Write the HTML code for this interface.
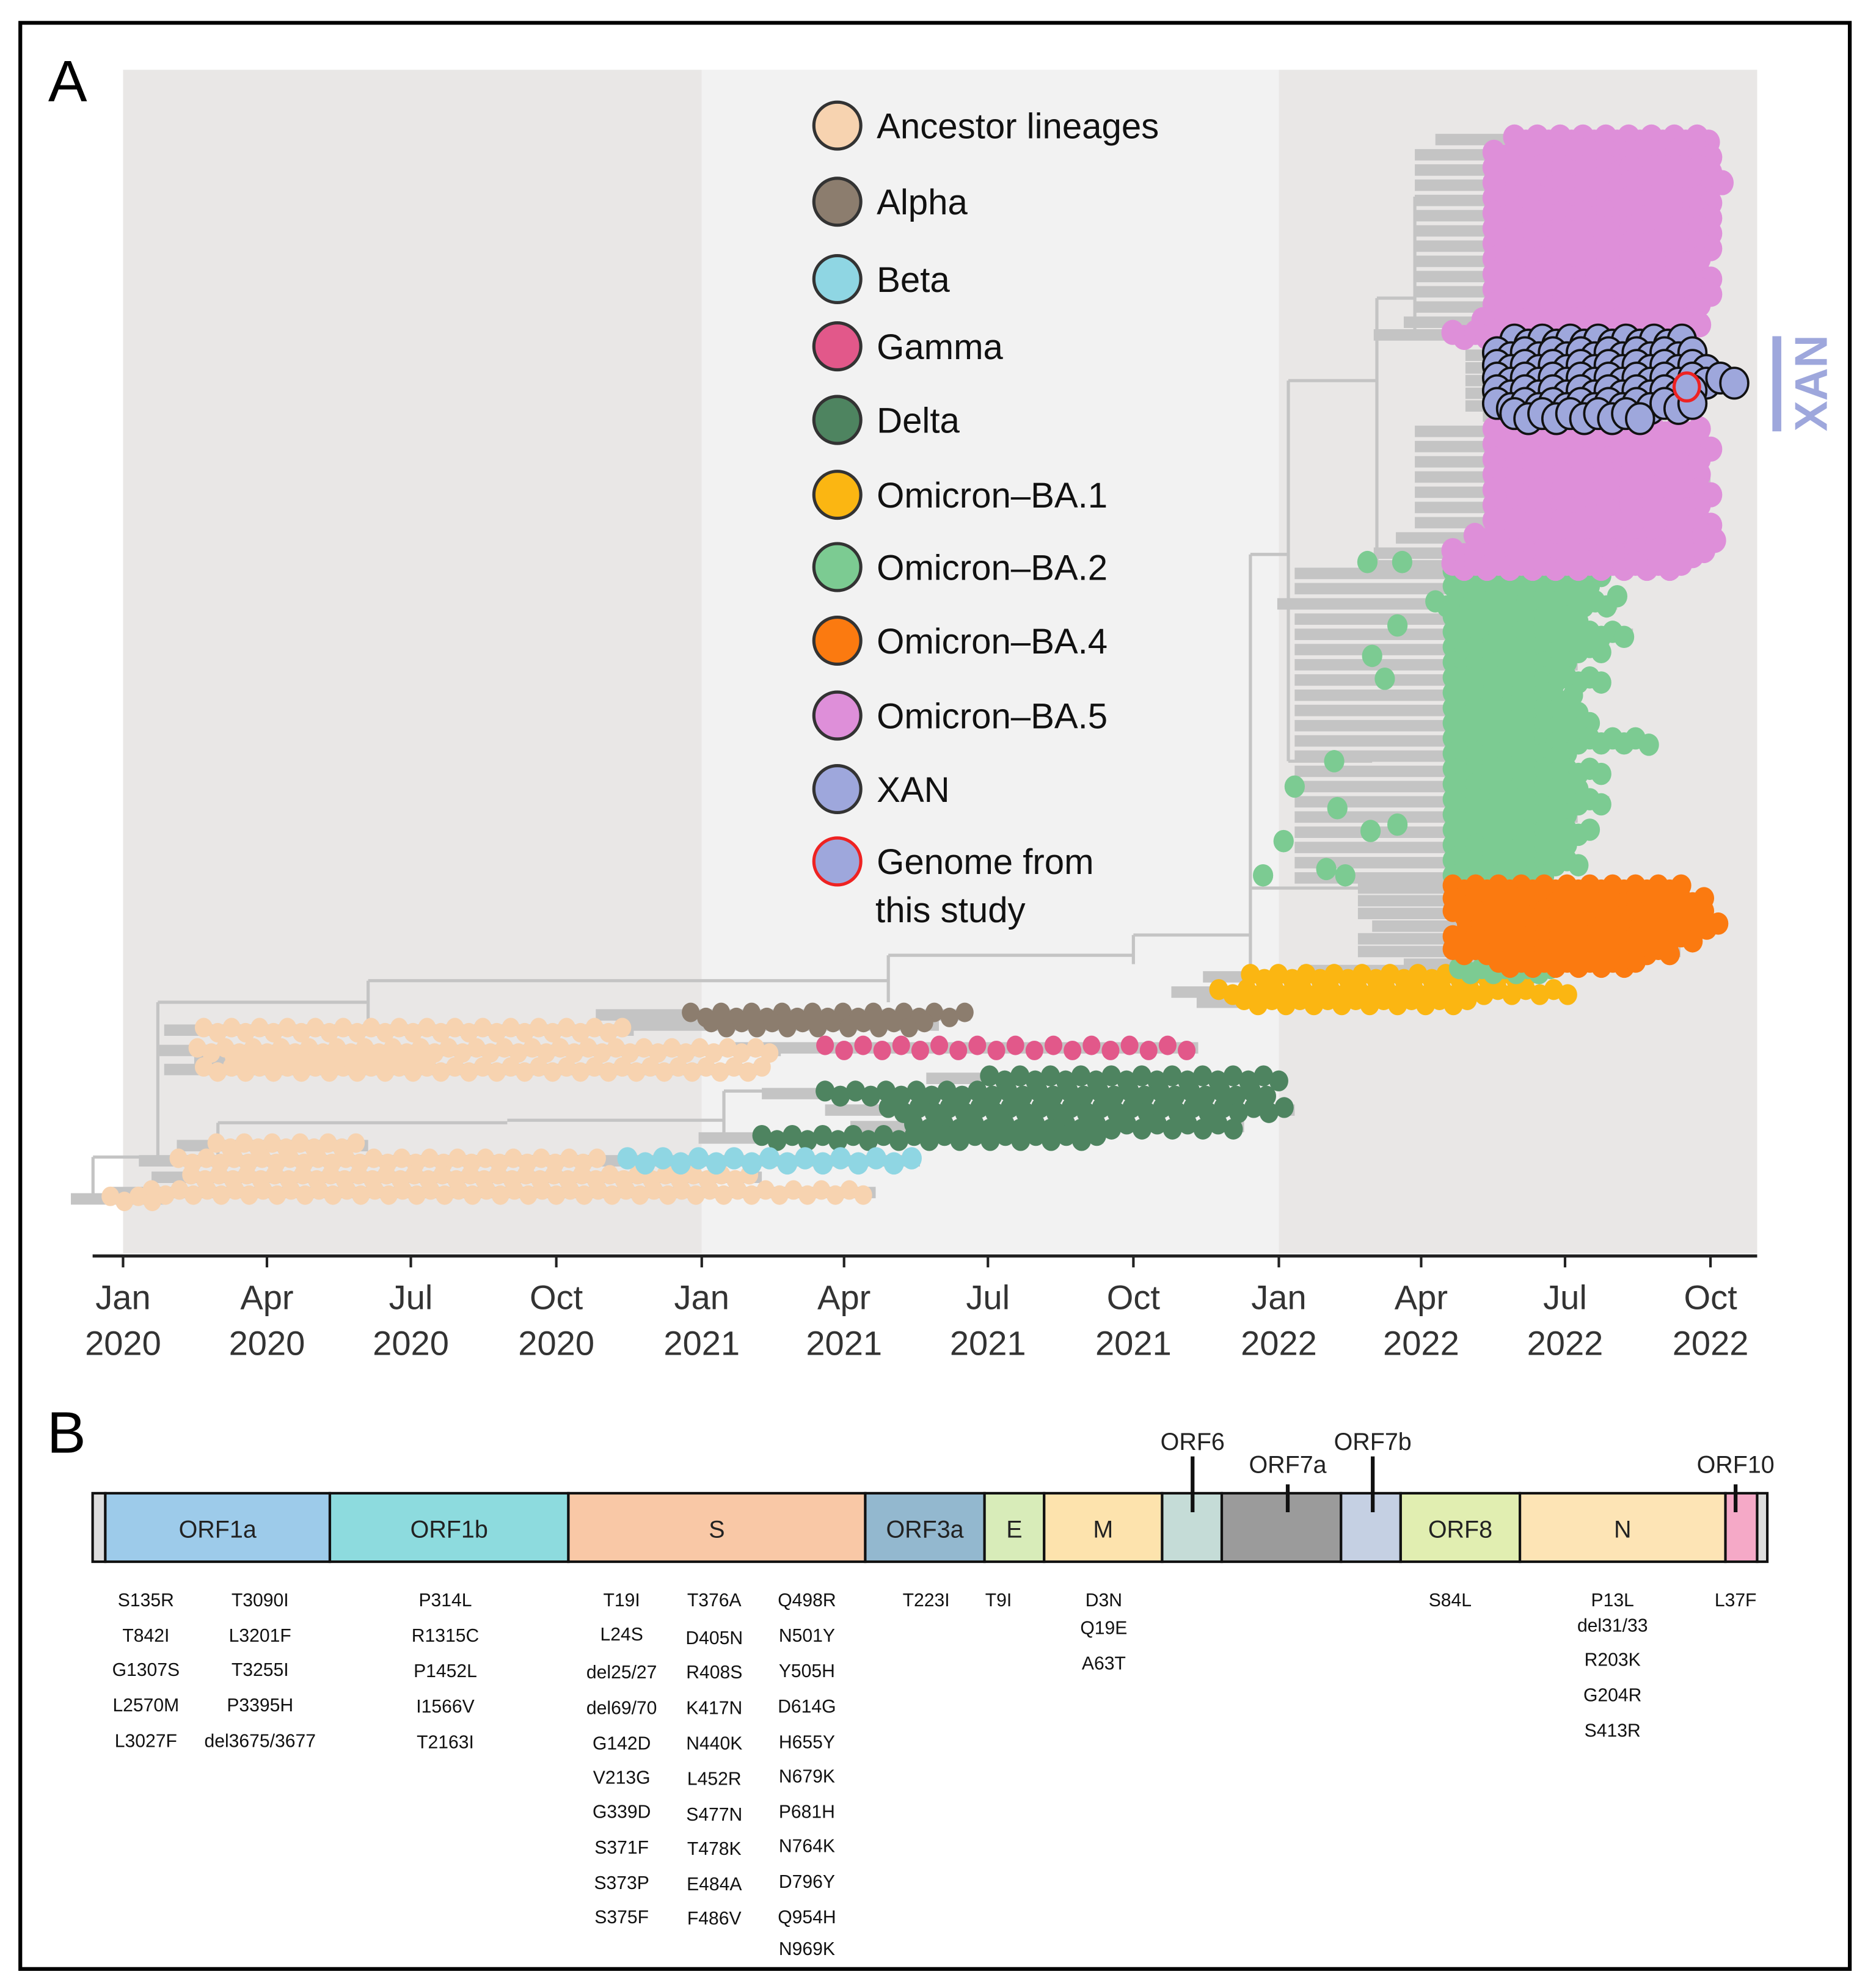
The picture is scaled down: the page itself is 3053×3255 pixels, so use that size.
<!DOCTYPE html>
<html><head><meta charset="utf-8">
<style>
html,body{margin:0;padding:0;background:#fff;}
svg{display:block;font-family:"Liberation Sans",sans-serif;}
</style></head>
<body>
<svg id="fig" width="3053" height="3255" viewBox="0 0 1470 1567" preserveAspectRatio="none" xmlns="http://www.w3.org/2000/svg">
<rect x="16" y="18" width="1442" height="1534" fill="#fff" stroke="#000" stroke-width="3"/>
<text x="38" y="80" font-size="46">A</text>
<g id="bands"></g>
<g id="tree"></g>
<g id="dots"></g>
<g id="axis"></g>
<g id="legend"></g>
<g>
<rect x="1397" y="265" width="7" height="75" fill="#9ea7dc"/>
<text x="1428" y="314" font-size="36" font-weight="bold" fill="#9ea7dc" text-anchor="middle" transform="rotate(-90 1428 302)">XAN</text>
</g>
<text x="37" y="1145" font-size="46">B</text>
<g id="genome"></g>
<g id="muts"></g>
</svg>
<script>
// ---------- data ----------
const tickDays=[0,91,182,274,366,456,547,639,731,821,912,1004];
const tickMonths=["Jan","Apr","Jul","Oct","Jan","Apr","Jul","Oct","Jan","Apr","Jul","Oct"];
const tickYears=["2020","2020","2020","2020","2021","2021","2021","2021","2022","2022","2022","2022"];
const legendNames=["Ancestor lineages","Alpha","Beta","Gamma","Delta","Omicron\u2013BA.1","Omicron\u2013BA.2","Omicron\u2013BA.4","Omicron\u2013BA.5","XAN","Genome from"];
const legendColors=["#f7d3b0","#8c7d6e","#8fd6e3","#e2588a","#4e8460","#fbb612","#7ccb92","#fb7a10","#de8fd9","#9ea7dc","#9ea7dc"];
// rows: [tip-order y, first sample day, last sample day]
const ancestorRows=[[812,51,323],[828,47,416],[843,51,404],[835,70,195],[903,59,155],[915,35,300],[928,43,404],[940,18,476],[945,-8,27]];
const alphaRows=[[800,359,536],[808,372,516]];
const gammaRows=[[826,444,680]];
const deltaRows=[[850,548,733],[862,444,725],[875,484,741],[888,500,709],[897,404,620]];
const betaRows=[[915,319,504]];
const ba1Rows=[[770,713,893],[782,693,917],[790,709,853]];
const ba2Rows=[[452,841,941],[464,841,930],[476,830,945],[488,841,925],[500,841,955],[512,841,940],[524,841,920],[536,841,935],[548,841,910],[560,841,925],[572,841,930],[584,841,962],[596,841,915],[608,841,935],[620,841,925],[632,841,940],[644,841,920],[656,841,930],[668,841,915],[680,841,925],[692,841,905],[765,845,905]];
const ba2Points=[[787,443],[809,443],[806,493],[790,517],[798,535],[766,600],[768,637],[741,620],[734,663],[721,690],[761,685],[773,690],[789,655],[806,650],[917,548],[917,575],[965,587],[945,470],[929,450]];
const ba4Rows=[[700,841,990],[710,841,1005],[720,841,1000],[730,850,1013],[740,841,995],[750,841,985],[760,870,960]];
const ba5Rows=[[110,880,1005],[122,867,1010],[134,867,1008],[146,867,1012],[158,867,1005],[170,867,1010],[182,867,1008],[194,867,1009],[206,867,1003],[218,867,1010],[230,867,1006],[242,867,1002],[254,860,1000],[264,841,880],[340,867,1003],[352,867,1008],[364,867,1000],[376,867,1004],[388,867,1006],[400,867,1000],[412,867,1005],[424,855,1008],[436,841,1002],[446,841,990]];
const xanRows=[[270,880,990],[280,869,1000],[290,869,1005],[300,869,1021],[310,869,995],[320,869,1000],[328,880,960]];
const studyGenome=[989,305];
const branches=[[-19,912,-19,943],[-19,912,22,912],[-19,943,0,943],[22,790,22,912],[22,790,155,790],[155,773,155,812],[155,773,484,773],[484,753,484,790],[484,753,639,753],[639,737,639,760],[639,737,713,737],[713,437,713,770],[713,437,737,437],[737,300,737,600],[737,300,793,300],[793,235,793,445],[793,235,817,235],[817,155,817,260],[817,155,860,155],[22,912,60,912],[60,885,60,930],[60,885,243,885],[243,883,380,883],[380,860,380,897],[380,860,450,860],[713,700,790,700],[737,600,790,600]];
// ---------- scales ----------
const NS="http://www.w3.org/2000/svg";
const X=d=>97+d*(1008-97)/731;
function mk(parent,tag,attrs){const e=document.createElementNS(NS,tag);for(const k in attrs)e.setAttribute(k,attrs[k]);parent.appendChild(e);return e;}
// bands
const bands=document.getElementById('bands');
let b1=mk(bands,'rect',{x:X(0),y:55,width:X(366)-X(0),height:933,fill:'#e9e7e6'});


let b2=mk(bands,'rect',{x:X(366),y:55,width:X(731)-X(366),height:933,fill:'#f2f2f2'});


let b3=mk(bands,'rect',{x:X(731),y:55,width:1385-X(731),height:933,fill:'#e9e7e6'});


// tree
const tree=document.getElementById('tree');
branches.forEach(b=>{
 const l=mk(tree,'line',{x1:X(b[0]),y1:b[1],x2:X(b[2]),y2:b[3],stroke:'#c4c4c4','stroke-width':2.5});
 
 
});
function rowBranches(rows,lag){
 rows.forEach(r=>{
  const l=mk(tree,'line',{x1:X(r[1]-lag),y1:r[0],x2:X(r[2]),y2:r[0],stroke:'#c4c4c4','stroke-width':9});
  
  
 });
}
rowBranches(ancestorRows,25);rowBranches(alphaRows,60);rowBranches(gammaRows,60);rowBranches(deltaRows,40);rowBranches(betaRows,40);
rowBranches(ba1Rows,30);rowBranches(ba2Rows,100);rowBranches(ba4Rows,60);rowBranches(ba5Rows,50);rowBranches(xanRows,20);
// dots
const dots=document.getElementById('dots');
function rowDots(rows,color,r,step,name,stroke){
 rows.forEach(row=>{
  let i=0;
  for(let x=X(row[1]);x<=X(row[2])+0.1;x+=step){
   const c=mk(dots,'ellipse',{cx:x,cy:row[0]+(i%2?2:-2),rx:r,ry:r*1.1,fill:color});
   if(stroke){c.setAttribute('stroke','#111');c.setAttribute('stroke-width','1.8');}
   
   
   i++;
  }
 });
}
rowDots(ancestorRows,'#f7d3b0',7,11,'ancestor-tip');
rowDots(alphaRows,'#8c7d6e',7,12,'alpha-tip');
rowDots(gammaRows,'#e2588a',7,15,'gamma-tip');
rowDots(deltaRows,'#4e8460',7.5,12,'delta-tip');
rowDots(betaRows,'#8fd6e3',8,14,'beta-tip');
rowDots(ba1Rows,'#fbb612',7.5,11,'ba1-tip');
rowDots(ba2Rows,'#7ccb92',8,9,'ba2-tip');
ba2Points.forEach(p=>{
 const c=mk(dots,'ellipse',{cx:X(p[0]),cy:p[1],rx:8,ry:8.8,fill:'#7ccb92'});
 
 
});
rowDots(ba4Rows,'#fb7a10',8,9,'ba4-tip');
rowDots(ba5Rows,'#de8fd9',9,9,'ba5-tip');
rowDots(xanRows,'#9ea7dc',11,11,'xan-tip',true);
const sg=mk(dots,'ellipse',{cx:X(studyGenome[0]),cy:studyGenome[1],rx:10,ry:11,fill:'#9ea7dc',stroke:'#ee2222','stroke-width':2.5});


// axis
const axis=document.getElementById('axis');
mk(axis,'line',{x1:73,y1:990,x2:1385,y2:990,stroke:'#222','stroke-width':2.5});
tickDays.forEach((d,i)=>{
 mk(axis,'line',{x1:X(d),y1:990,x2:X(d),y2:999,stroke:'#222','stroke-width':2});
 const t=mk(axis,'text',{x:X(d),y:1032,'font-size':27,'text-anchor':'middle',fill:'#333'});
 t.textContent=tickMonths[i];
 
 
 const t2=mk(axis,'text',{x:X(d),y:1068,'font-size':27,'text-anchor':'middle',fill:'#333'});
 t2.textContent=tickYears[i];
 
 
});
// legend
const legend=document.getElementById('legend');
const legY=[99,159,220,273,331,390,447,505,564,622,679];
legendNames.forEach((n,i)=>{
 const c=mk(legend,'circle',{cx:660,cy:legY[i],r:18.5,fill:legendColors[i],stroke:i==10?'#ee2222':'#333','stroke-width':2.5});
 
 
 const t=mk(legend,'text',{x:691,y:legY[i]+10,'font-size':28,fill:'#111'});
 t.textContent=n;
 
 
});
const t11=mk(legend,'text',{x:690,y:727,'font-size':28,fill:'#111'});t11.textContent='this study';


// genome map
const genes=[["",73,83,"#dddddd"],["ORF1a",83,260,"#9dcbea"],["ORF1b",260,448,"#8ddbde"],["S",448,682,"#f9c8a6"],["ORF3a",682,776,"#93b8cf"],["E",776,823,"#d8ecb9"],["M",823,916,"#fde3ad"],["",916,963,"#c5dcd7"],["",963,1057,"#9b9b9b"],["",1057,1104,"#c5d0e3"],["ORF8",1104,1198,"#e1eeb1"],["N",1198,1360,"#fde4b5"],["",1360,1385,"#f5a9c7"],["",1385,1393,"#dddddd"]];
const g=document.getElementById('genome');
genes.forEach(s=>{
 const r=mk(g,'rect',{x:s[1],y:1177,width:s[2]-s[1],height:54,fill:s[3],stroke:'#111','stroke-width':2});
 
 
 if(s[0]){const t=mk(g,'text',{x:(s[1]+s[2])/2,y:1212,'font-size':19,'text-anchor':'middle',fill:'#222'});t.textContent=s[0];
 
 }
});
const smallGenes=[["ORF6",940,1143,1148],["ORF7a",1015,1161,1170],["ORF7b",1082,1143,1148],["ORF10",1368,1161,1170]];
smallGenes.forEach(s=>{
 mk(g,'line',{x1:s[1],y1:s[3],x2:s[1],y2:1192,stroke:'#111','stroke-width':3});
 const t=mk(g,'text',{x:s[1],y:s[2],'font-size':19,'text-anchor':'middle',fill:'#222'});t.textContent=s[0];
 
 
});
// mutations
const mutCols=[
[115,[["S135R",1261],["T842I",1289],["G1307S",1316],["L2570M",1344],["L3027F",1372]]],
[205,[["T3090I",1261],["L3201F",1289],["T3255I",1316],["P3395H",1344],["del3675/3677",1372]]],
[351,[["P314L",1261],["R1315C",1289],["P1452L",1317],["I1566V",1345],["T2163I",1373]]],
[490,[["T19I",1261],["L24S",1288],["del25/27",1318],["del69/70",1346],["G142D",1374],["V213G",1401],["G339D",1428],["S371F",1456],["S373P",1484],["S375F",1511]]],
[563,[["T376A",1261],["D405N",1291],["R408S",1318],["K417N",1346],["N440K",1374],["L452R",1402],["S477N",1430],["T478K",1457],["E484A",1485],["F486V",1512]]],
[636,[["Q498R",1261],["N501Y",1289],["Y505H",1317],["D614G",1345],["H655Y",1373],["N679K",1400],["P681H",1428],["N764K",1455],["D796Y",1483],["Q954H",1511],["N969K",1536]]],
[730,[["T223I",1261]]],[787,[["T9I",1261]]],
[870,[["D3N",1261],["Q19E",1283],["A63T",1311]]],
[1143,[["S84L",1261]]],
[1271,[["P13L",1261],["del31/33",1281],["R203K",1308],["G204R",1336],["S413R",1364]]],
[1368,[["L37F",1261]]]];
const m=document.getElementById('muts');
mutCols.forEach(c=>c[1].forEach(v=>{
 const t=mk(m,'text',{x:c[0],y:v[1]+5,'font-size':14.5,'text-anchor':'middle',fill:'#111'});t.textContent=v[0];
 
 
}));
</script>
</body></html>
